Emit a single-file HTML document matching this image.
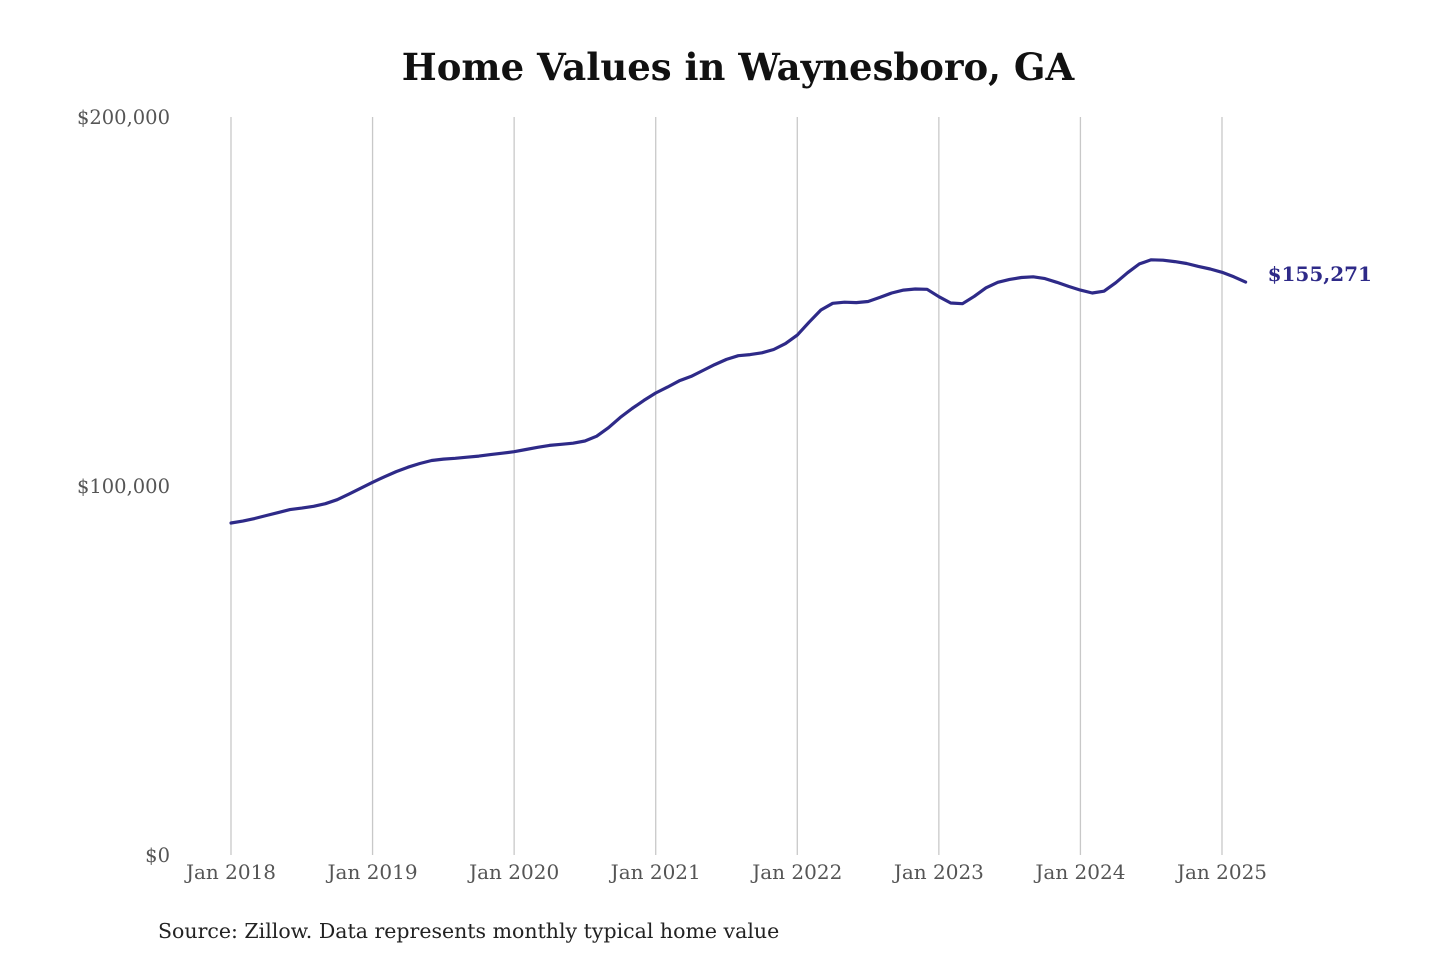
<!DOCTYPE html>
<html><head><meta charset="utf-8"><style>
body{margin:0;background:#fff;}
svg{display:block;}
</style></head><body>
<svg id="chart" width="1440" height="960" xmlns="http://www.w3.org/2000/svg">
<text x="738" y="80" text-anchor="middle" font-family="DejaVu Serif, serif" font-weight="bold" font-size="37" fill="#111">Home Values in Waynesboro, GA</text>
<g id="grid"></g><g id="yaxis"></g><g id="xaxis"></g><g id="series"></g>
<text x="158" y="938" font-family="DejaVu Serif, serif" font-size="20.5" fill="#222">Source: Zillow. Data represents monthly typical home value</text>
</svg>
<script>
const values = [89970,90500,91200,92000,92800,93600,94000,94500,95200,96300,97800,99400,
101000,102500,103900,105100,106100,106900,107300,107500,107800,108100,108500,108900,
109300,109900,110500,111000,111300,111600,112200,113500,115800,118600,121000,123200,
125200,126800,128500,129700,131300,132900,134300,135300,135600,136100,137000,138600,
140900,144400,147700,149500,149800,149700,150000,151100,152300,153100,153400,153300,
151300,149600,149400,151400,153700,155200,156000,156500,156700,156200,155200,154100,
153100,152300,152800,155100,157800,160200,161300,161200,160800,160300,159500,158800,
157900,156700,155271];
const yTicks = [0,100000,200000];
const yTickLabels = ["$0","$100,000","$200,000"];
const xTickYears = [2018,2019,2020,2021,2022,2023,2024,2025];
const xTickLabels = ["Jan 2018","Jan 2019","Jan 2020","Jan 2021","Jan 2022","Jan 2023","Jan 2024","Jan 2025"];
const endLabel = "$155,271";

const NS="http://www.w3.org/2000/svg";
const x0=231, pxPerMonth=(1222-231)/84;
const yBase=855, yTop=117, yMax=200000;
const X=m=>x0+m*pxPerMonth;
const Y=v=>yBase-(v/yMax)*(yBase-yTop);
function mk(tag,attrs,parent,text){const e=document.createElementNS(NS,tag);for(const k in attrs)e.setAttribute(k,attrs[k]);if(text!==undefined)e.textContent=text;document.getElementById(parent).appendChild(e);return e;}

xTickYears.forEach((yr,i)=>{
  const m=(yr-2018)*12;
  const l=mk('line',{x1:X(m),x2:X(m),y1:yTop,y2:yBase,stroke:'#c8c8c8','stroke-width':1.3},'grid');
  
  
  const t=mk('text',{x:X(m),y:879,'text-anchor':'middle','font-family':'DejaVu Serif, serif','font-size':20,fill:'#555'},'xaxis',xTickLabels[i]);
  
  
});
yTicks.forEach((v,i)=>{
  const t=mk('text',{x:170,y:Y(v)+7,'text-anchor':'end','font-family':'DejaVu Serif, serif','font-size':19.5,fill:'#555'},'yaxis',yTickLabels[i]);
  
  
});
const d=values.map((v,i)=>(i?'L':'M')+X(i).toFixed(1)+','+Y(v).toFixed(1)).join(' ');
const p=mk('path',{d:d,fill:'none',stroke:'#2e2a88','stroke-width':3.2,'stroke-linejoin':'round','stroke-linecap':'round'},'series');


const last=values.length-1;
const el=mk('text',{x:X(last)+22,y:Y(values[last])-1,'font-family':'DejaVu Serif, serif','font-weight':'bold','font-size':20,fill:'#2e2a88'},'series',endLabel);


</script>
</body></html>
